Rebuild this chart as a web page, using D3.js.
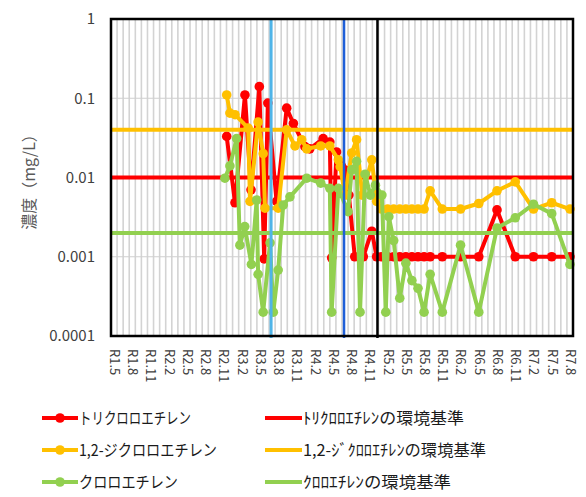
<!DOCTYPE html>
<html>
<head>
<meta charset="utf-8">
<script src="https://cdn.jsdelivr.net/npm/d3@7"></script>
<style>
  html, body { margin: 0; padding: 0; background: #fff; }
  svg { display: block; }
</style>
</head>
<body>
<script>
// Month axis: R1.5 .. R7.8 (Reiwa year.month), one grid cell per month
const firstMonth = "R1.5";
const lastMonth = "R7.8";
const tickLabels = ["R1.5","R1.8","R1.11","R2.2","R2.5","R2.8","R2.11","R3.2","R3.5","R3.8",
  "R3.11","R4.2","R4.5","R4.8","R4.11","R5.2","R5.5","R5.8","R5.11","R6.2","R6.5","R6.8",
  "R6.11","R7.2","R7.5","R7.8"];
const yTickValues = [0.0001, 0.001, 0.01, 0.1, 1];
const yTickLabels = ["0.0001", "0.001", "0.01", "0.1", "1"];

// Measurements: [Reiwa date "R<year>.<month>[.<day>]", concentration mg/L]
const trichloroethylene = [
  ["R2.12.1", 0.033], ["R3.1.12", 0.0048], ["R3.3.1", 0.11], ["R3.4.1", 0.007],
  ["R3.5.12", 0.14], ["R3.6.6", 0.00094], ["R3.6.24", 0.087], ["R3.8.7", 0.005],
  ["R3.9.27", 0.075], ["R3.10.30", 0.048], ["R3.12.27", 0.0245], ["R4.1.21", 0.023],
  ["R4.3.27", 0.031], ["R4.4.30", 0.028], ["R4.5.9", 0.00097], ["R4.6.3", 0.021],
  ["R4.6.27", 0.014], ["R4.7.15", 0.0124], ["R4.8.4", 0.006], ["R4.9.3", 0.001],
  ["R4.10.15", 0.001], ["R4.11.27", 0.0021], ["R4.12.21", 0.001],
  ["R5.1", 0.001], ["R5.2", 0.001], ["R5.3", 0.001], ["R5.4", 0.001], ["R5.5", 0.001],
  ["R5.6", 0.001], ["R5.7", 0.001], ["R5.8", 0.001], ["R5.9", 0.001], ["R5.11", 0.001],
  ["R6.2", 0.001], ["R6.5", 0.001], ["R6.8", 0.0039], ["R6.11", 0.001], ["R7.2", 0.001],
  ["R7.5", 0.001], ["R7.8", 0.001]
];
const dichloroethylene = [
  ["R2.12.1", 0.11], ["R2.12.17", 0.065], ["R3.1.12", 0.062], ["R3.3.17", 0.042],
  ["R3.3.26", 0.005], ["R3.5.6", 0.05], ["R3.6.1", 0.02], ["R3.6.10", 0.0041],
  ["R3.8.15", 0.0041], ["R3.9.27", 0.04], ["R3.11.8", 0.025], ["R3.12.11", 0.03],
  ["R4.1.6", 0.023], ["R4.3", 0.025], ["R4.4.30", 0.025], ["R4.6.12", 0.0167],
  ["R4.6.21", 0.0137], ["R4.7.15", 0.006], ["R4.8.18", 0.0204], ["R4.9.12", 0.03],
  ["R4.10.10", 0.006], ["R4.11.27", 0.0167], ["R4.12.21", 0.005],
  ["R5.1", 0.004], ["R5.2", 0.004], ["R5.3", 0.004], ["R5.4", 0.004], ["R5.5", 0.004],
  ["R5.6", 0.004], ["R5.7", 0.004], ["R5.8", 0.004], ["R5.9", 0.0068], ["R5.11", 0.004],
  ["R6.2", 0.004], ["R6.5", 0.0047], ["R6.8", 0.0068], ["R6.11", 0.0088], ["R7.2", 0.004],
  ["R7.5", 0.0048], ["R7.8", 0.004]
];
const chloroethylene = [
  ["R2.11.22", 0.0098], ["R2.12.17", 0.014], ["R3.1.20", 0.031], ["R3.2.6", 0.0014],
  ["R3.2.30", 0.0024], ["R3.4.3", 0.0008], ["R3.4.29", 0.0052], ["R3.5.6", 0.0006],
  ["R3.6.1", 0.0002], ["R3.7.5", 0.0015], ["R3.7.21", 0.0002], ["R3.8.15", 0.00068],
  ["R3.9.10", 0.0045], ["R3.10.13", 0.0057], ["R4.1.6", 0.0098], ["R4.3", 0.0085],
  ["R4.4.30", 0.0073], ["R4.5.9", 0.0002], ["R4.6.12", 0.0073], ["R4.7.30", 0.0037],
  ["R4.8.18", 0.0125], ["R4.9.12", 0.016], ["R4.9.29", 0.0002], ["R4.10.24", 0.011],
  ["R4.11.20", 0.006], ["R4.12.15", 0.008], ["R5.1.17", 0.006], ["R5.2.6", 0.0002],
  ["R5.2.21", 0.0032], ["R5.3", 0.0016], ["R5.4", 0.0003], ["R5.5", 0.00083],
  ["R5.6", 0.0005], ["R5.7", 0.0004], ["R5.8", 0.0002], ["R5.9", 0.0006],
  ["R5.11", 0.0002], ["R6.2", 0.0014], ["R6.5", 0.0002], ["R6.8", 0.0023],
  ["R6.11", 0.0031], ["R7.2", 0.0046], ["R7.5", 0.0035], ["R7.8", 0.0008]
];

// Environmental quality standards (mg/L)
const standardValues = [0.01, 0.04, 0.002];
const seriesNames = ["トリクロロエチレン", "1,2-ジクロロエチレン", "クロロエチレン"];
const standardNames = ["ﾄﾘｸﾛﾛｴﾁﾚﾝの環境基準", "1,2-ｼﾞｸﾛﾛｴﾁﾚﾝの環境基準", "ｸﾛﾛｴﾁﾚﾝの環境基準"];
// Event dates marked with vertical lines
const eventDates = ["R3.7.10", "R4.7.10", "R4.12.25"];

// ---- styling / layout ----
const W = 586, H = 497;
const M = { left: 111, right: 573, top: 19, bottom: 336 };
const colors = ["#ff0000", "#ffc000", "#92d050"];
const eventColors = ["#4fb4e8", "#1f5fd8", "#000000"];
const legendTextWidths = [[112, 161], [138, 183], [99, 148]];
const lineWidth = 4, markerR = 4.8;

function monthPos(s) {
  const parts = s.slice(1).split(".").map(Number);
  const idx = (parts[0] - 1) * 12 + parts[1] - 5;
  const day = parts.length > 2 ? parts[2] : 15;
  return idx + 0.5 + (day - 15) / 30;
}
const nMonths = Math.round(monthPos(lastMonth) + 0.5) - Math.round(monthPos(firstMonth) - 0.5);

const x = d3.scaleLinear().domain([0, nMonths]).range([M.left, M.right]);
const y = d3.scaleLog().domain([0.0001, 1]).range([M.bottom, M.top]);

const svg = d3.select("body").append("svg").attr("width", W).attr("height", H);
const font = "'Noto Sans CJK JP', 'Noto Sans', sans-serif";

// Grid: monthly verticals, decade horizontals
svg.append("g").selectAll("line").data(d3.range(1, nMonths)).join("line")
  .attr("x1", d => x(d)).attr("x2", d => x(d))
  .attr("y1", M.top).attr("y2", M.bottom)
  .attr("stroke", "#d3d3d3").attr("stroke-width", 1.6);
svg.append("g").selectAll("line").data(yTickValues.slice(1, -1)).join("line")
  .attr("x1", M.left).attr("x2", M.right)
  .attr("y1", d => y(d)).attr("y2", d => y(d))
  .attr("stroke", "#cfcfcf").attr("stroke-width", 1);

// Axes
const yAxis = svg.append("g").attr("transform", `translate(${M.left},0)`)
  .call(d3.axisLeft(y).tickValues(yTickValues).tickSize(0).tickPadding(16)
    .tickFormat((d, i) => yTickLabels[i]));
yAxis.select(".domain").remove();
yAxis.selectAll("text").attr("font-family", font).attr("font-size", 15).attr("fill", "#404040");

const xAxis = svg.append("g").attr("transform", `translate(0,${M.bottom})`)
  .call(d3.axisBottom(x).tickValues(tickLabels.map(monthPos)).tickSize(0)
    .tickFormat((d, i) => tickLabels[i]));
xAxis.select(".domain").remove();
xAxis.selectAll("text")
  .attr("font-family", font).attr("font-size", 13).attr("fill", "#404040")
  .attr("text-anchor", "start")
  .attr("transform", "rotate(90)")
  .attr("x", 13).attr("y", 0).attr("dy", "0.35em");

svg.append("text")
  .attr("transform", `translate(29,178) rotate(-90)`)
  .attr("text-anchor", "middle").attr("dy", "0.35em")
  .attr("font-family", font).attr("font-size", 16).attr("fill", "#595959")
  .text("濃度（mg/L）");

// Series and standards, drawn in legend order
const line = d3.line().x(d => x(monthPos(d[0]))).y(d => y(d[1]));
const allSeries = [trichloroethylene, dichloroethylene, chloroethylene];
const plotG = svg.append("g");
allSeries.forEach((data, i) => {
  const g = plotG.append("g");
  g.append("path").datum(data).attr("d", line)
    .attr("fill", "none").attr("stroke", colors[i]).attr("stroke-width", lineWidth)
    .attr("stroke-linejoin", "round");
  g.selectAll("circle").data(data).join("circle")
    .attr("cx", d => x(monthPos(d[0]))).attr("cy", d => y(d[1])).attr("r", markerR)
    .attr("fill", colors[i]);
  plotG.append("line")
    .attr("x1", M.left).attr("x2", M.right)
    .attr("y1", y(standardValues[i])).attr("y2", y(standardValues[i]))
    .attr("stroke", colors[i]).attr("stroke-width", 4);
});

// Event lines
svg.append("g").selectAll("line").data(eventDates).join("line")
  .attr("x1", d => x(monthPos(d))).attr("x2", d => x(monthPos(d)))
  .attr("y1", M.top).attr("y2", M.bottom + 2)
  .attr("stroke", (d, i) => eventColors[i]).attr("stroke-width", (d, i) => i === 0 ? 3 : 2.5);

// Plot frame
svg.append("rect").attr("x", M.left).attr("y", M.top)
  .attr("width", M.right - M.left).attr("height", M.bottom - M.top)
  .attr("fill", "none").attr("stroke", "#000").attr("stroke-width", 2.5);

// Legend: rows of [series, standard]
const legendRows = [418, 450, 482];
const legendCols = [{ x0: 42, x1: 78 }, { x0: 265, x1: 302 }];
legendRows.forEach((ly, i) => {
  [[seriesNames[i], true], [standardNames[i], false]].forEach(([name, marker], c) => {
    const col = legendCols[c];
    const g = svg.append("g");
    g.append("line").attr("x1", col.x0).attr("x2", col.x1).attr("y1", ly).attr("y2", ly)
      .attr("stroke", colors[i]).attr("stroke-width", lineWidth);
    if (marker) {
      g.append("circle").attr("cx", (col.x0 + col.x1) / 2).attr("cy", ly).attr("r", markerR)
        .attr("fill", colors[i]);
    }
    g.append("text").attr("x", col.x1 + 1).attr("y", ly).attr("dy", "0.35em")
      .attr("font-family", font).attr("font-size", 16).attr("fill", "#1a1a1a")
      .attr("textLength", legendTextWidths[i][c]).attr("lengthAdjust", "spacingAndGlyphs")
      .text(name);
  });
});
</script>
</body>
</html>
